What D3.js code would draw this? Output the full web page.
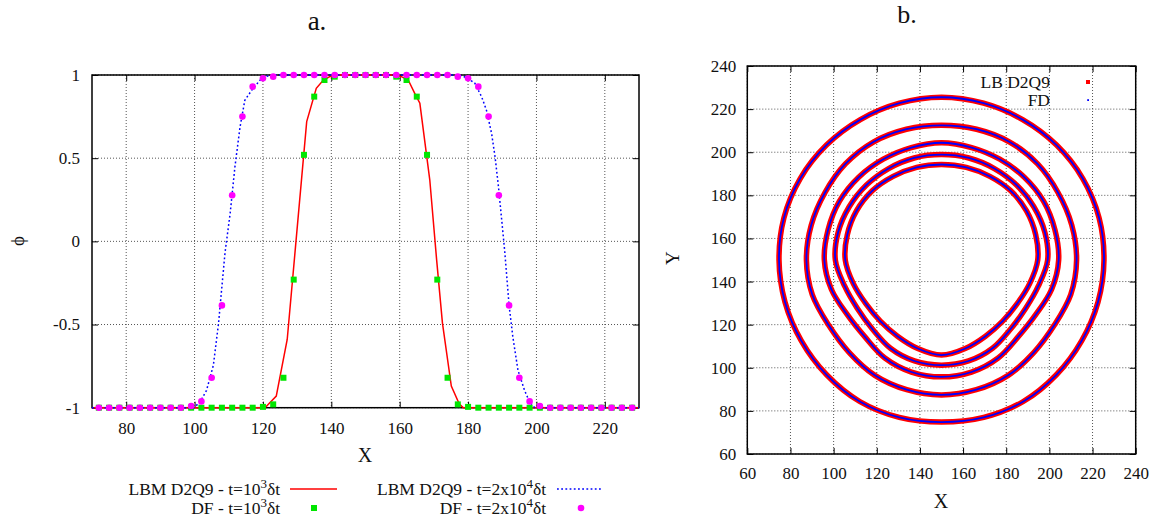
<!DOCTYPE html>
<html>
<head>
<meta charset="utf-8">
<script src="https://cdn.jsdelivr.net/npm/d3@7"></script>
<style>
  body { margin: 0; background: #fff; }
  text { font-family: "Liberation Serif", "Times New Roman", serif; }
</style>
</head>
<body>
<svg id="chart" width="1159" height="523"></svg>
<script>
/**************** data, panel a : phi along X ****************/
var dfX = [72, 75, 78, 81, 84, 87, 90, 93, 96, 99, 102, 105, 108, 111, 114, 117, 120, 123, 126,
           129, 132, 135, 138, 141, 144, 147, 150, 153, 156, 159, 162, 165, 168, 171, 174, 177,
           180, 183, 186, 189, 192, 195, 198, 201, 204, 207, 210, 213, 216, 219, 222, 225, 228];
// DF - t=10^3 dt
var dfEarly = [-1, -1, -1, -1, -1, -1, -1, -1, -1, -1, -1, -1, -1, -1, -1, -1, -0.995, -0.98, -0.82,
               -0.23, 0.52, 0.87, 0.97, 0.99, 1, 1, 1, 1, 1, 0.99, 0.97, 0.87, 0.52, -0.23, -0.82, -0.98,
               -0.995, -1, -1, -1, -1, -1, -1, -1, -1, -1, -1, -1, -1, -1, -1, -1, -1];
// DF - t=2x10^4 dt
var dfLate = [-1, -1, -1, -1, -1, -1, -1, -1, -1, -0.99, -0.962, -0.82, -0.385, 0.277, 0.75, 0.93, 0.98, 0.99, 1,
              1, 1, 1, 1, 1, 1, 1, 1, 1, 1, 1, 1, 1, 1, 1, 1, 0.99,
              0.98, 0.93, 0.75, 0.277, -0.385, -0.82, -0.962, -0.99, -1, -1, -1, -1, -1, -1, -1, -1, -1];
// LBM D2Q9 - t=10^3 dt
var lbmEarly = [[70, -1], [120.6, -1], [123.9, -0.93], [127.1, -0.59], [132.8, 0.72], [135.6, 0.92],
                [137.5, 0.965], [139.5, 0.99], [141.5, 1], [158.5, 1], [160.5, 0.99], [162.5, 0.97],
                [164.4, 0.89], [165.9, 0.83], [168.8, 0.37], [170.8, -0.11], [172.5, -0.49],
                [175.1, -0.87], [177.4, -0.976], [178.6, -1], [230, -1]];
// LBM D2Q9 - t=2x10^4 dt
var lbmLate = [[70, -1], [99.8, -1], [101.6, -0.966], [103.5, -0.896], [105.5, -0.745], [107, -0.495],
               [108.9, -0.07], [110.4, 0.166], [111.8, 0.447], [113.3, 0.687], [114.7, 0.848],
               [116.7, 0.908], [119.1, 0.968], [121.1, 0.992], [123, 1], [177, 1], [178.6, 0.992],
               [180.1, 0.978], [182, 0.95], [184, 0.867], [185.4, 0.787], [186.9, 0.647], [187.9, 0.507],
               [188.9, 0.327], [190.7, -0.054], [192, -0.385], [193.1, -0.575], [194.6, -0.775],
               [196.5, -0.895], [198, -0.966], [199.5, -1], [230, -1]];
var xTicksA = [80, 100, 120, 140, 160, 180, 200, 220];
var yTicksA = [-1, -0.5, 0, 0.5, 1];

/**************** data, panel b : interface contours ****************/
// contours around (150,150): radius read every 15 degrees, clockwise from the top
var contourCenter = [150, 150];
var contourAngles = [0, 15, 30, 45, 60, 75, 90, 105, 120, 135, 150, 165,
                     180, 195, 210, 225, 240, 255, 270, 285, 300, 315, 330, 345];
var radii1 = [75.5, 75.3, 75.2, 75.4, 75.6, 75.6, 75.3, 75.1, 75, 75.3, 75.8, 75.6,
              75.2, 75.6, 75.8, 75.3, 75, 75.1, 75.3, 75.6, 75.6, 75.4, 75.2, 75.3];
var radii2 = [62.5, 62.8, 63.2, 63, 62.4, 62.5, 62.6, 62, 60.4, 60.6, 61.8, 62.3,
              62.6, 62.3, 61.8, 60.6, 60.4, 62, 62.6, 62.5, 62.4, 63, 63.2, 62.8];
var radii3 = [54.4, 54, 54, 54.3, 54.6, 54.4, 54.3, 52.8, 50.5, 50.3, 52.5, 53.8,
              54.2, 53.8, 52.5, 50.3, 50.5, 52.8, 54.3, 54.4, 54.6, 54.3, 54, 54];
var radii4 = [48.9, 49, 49, 49.2, 49.4, 49.6, 49.2, 46.5, 45, 45.3, 47.3, 48.5,
              48.8, 48.5, 47.3, 45.3, 45, 46.5, 49.2, 49.6, 49.4, 49.2, 49, 49];
var radii5 = [44.3, 44.5, 44.8, 45.4, 45.5, 45.2, 44.6, 42.3, 40.5, 40.1, 40.8, 42.5,
              44.1, 42.5, 40.8, 40.1, 40.5, 42.3, 44.6, 45.2, 45.5, 45.4, 44.8, 44.5];
var radiiB = [radii1, radii2, radii3, radii4, radii5];
var ticksB = [60, 80, 100, 120, 140, 160, 180, 200, 220, 240];

/**************** drawing ****************/
var serif = '"Liberation Serif", "Times New Roman", serif';
var svg = d3.select("#chart");

function panel(box, xDom, yDom, xTicks, yTicks, padX, padY) {
    var x = d3.scaleLinear().domain(xDom).range([box.left, box.right]);
    var y = d3.scaleLinear().domain(yDom).range([box.bottom, box.top]);
    var g = svg.append("g");
    var fmt = function(d) { return String(d); };

    // dotted grid
    g.selectAll("line.gx").data(xTicks).enter().append("line").attr("class", "gx")
        .attr("x1", function(d) { return x(d); }).attr("x2", function(d) { return x(d); })
        .attr("y1", box.top).attr("y2", box.bottom);
    g.selectAll("line.gy").data(yTicks).enter().append("line").attr("class", "gy")
        .attr("y1", function(d) { return y(d); }).attr("y2", function(d) { return y(d); })
        .attr("x1", box.left).attr("x2", box.right);
    g.selectAll("line.gx, line.gy").attr("stroke", "#555").attr("stroke-width", 1)
        .attr("stroke-dasharray", "1,2");

    // axes, ticks pointing inwards and mirrored
    var axes = [
        g.append("g").attr("transform", "translate(0," + box.bottom + ")")
            .call(d3.axisBottom(x).tickValues(xTicks).tickSizeInner(-6).tickSizeOuter(0).tickPadding(padX).tickFormat(fmt)),
        g.append("g").attr("transform", "translate(" + box.left + ",0)")
            .call(d3.axisLeft(y).tickValues(yTicks).tickSizeInner(-6).tickSizeOuter(0).tickPadding(padY).tickFormat(fmt)),
        g.append("g").attr("transform", "translate(0," + box.top + ")")
            .call(d3.axisTop(x).tickValues(xTicks).tickSizeInner(-6).tickSizeOuter(0).tickFormat("")),
        g.append("g").attr("transform", "translate(" + box.right + ",0)")
            .call(d3.axisRight(y).tickValues(yTicks).tickSizeInner(-6).tickSizeOuter(0).tickFormat(""))
    ];
    axes.forEach(function(a) {
        a.attr("font-family", serif).attr("font-size", 17);
        a.select(".domain").remove();
        a.selectAll(".tick line").attr("stroke", "#000").attr("stroke-width", 1);
        a.selectAll(".tick text").attr("fill", "#111");
    });

    // border
    g.append("rect").attr("x", box.left).attr("y", box.top)
        .attr("width", box.right - box.left).attr("height", box.bottom - box.top)
        .attr("fill", "none").attr("stroke", "#000").attr("stroke-width", 1.5);

    return { x: x, y: y, g: g };
}

function label(txt, x, y, size, rot, anchor) {
    var t = svg.append("text").attr("x", x).attr("y", y)
        .attr("font-size", size).attr("text-anchor", anchor || "middle").attr("fill", "#111")
        .text(txt);
    if (rot) t.attr("transform", "rotate(" + rot + "," + x + "," + y + ")");
    return t;
}

// legend text like "LBM D2Q9 - t=10^3 dt"
function supText(before, sup, after, x, y) {
    var t = svg.append("text").attr("x", x).attr("y", y).attr("font-size", 17.5)
        .attr("text-anchor", "end").attr("fill", "#111");
    t.append("tspan").text(before);
    t.append("tspan").attr("dy", -7).attr("font-size", 13).text(sup);
    t.append("tspan").attr("dy", 7).text(after);
}

/* ---------- panel a ---------- */
var pa = panel({ left: 92, right: 639, top: 75, bottom: 407.7 }, [70, 230], [-1, 1], xTicksA, yTicksA, 14, 12);

var lineA = d3.line().x(function(d) { return pa.x(d[0]); }).y(function(d) { return pa.y(d[1]); });

pa.g.append("path").datum(lbmEarly).attr("d", lineA)
    .attr("fill", "none").attr("stroke", "#ff0000").attr("stroke-width", 1.5);

pa.g.selectAll("rect.dfe").data(dfX).enter().append("rect").attr("class", "dfe")
    .attr("x", function(d) { return pa.x(d) - 3; })
    .attr("y", function(d, i) { return pa.y(dfEarly[i]) - 3; })
    .attr("width", 6).attr("height", 6).attr("fill", "#00e600");

pa.g.append("path").datum(lbmLate).attr("d", lineA)
    .attr("fill", "none").attr("stroke", "#0000ff").attr("stroke-width", 1.5)
    .attr("stroke-dasharray", "1.8,2.4");

pa.g.selectAll("circle.dfl").data(dfX).enter().append("circle").attr("class", "dfl")
    .attr("cx", function(d) { return pa.x(d); })
    .attr("cy", function(d, i) { return pa.y(dfLate[i]); })
    .attr("r", 3.3).attr("fill", "#ff00ff");

label("a.", 317, 30, 27);
label("X", 365, 462, 20);
label("\u03d5", 17, 241, 19, -90).attr("dy", "0.35em");

// legend of panel a
supText("LBM D2Q9 - t=10", "3", "\u03b4t", 280, 495);
supText("DF - t=10", "3", "\u03b4t", 280, 514);
supText("LBM D2Q9 - t=2x10", "4", "\u03b4t", 546, 495);
supText("DF - t=2x10", "4", "\u03b4t", 546, 514);
svg.append("line").attr("x1", 290).attr("x2", 337).attr("y1", 489).attr("y2", 489)
    .attr("stroke", "#ff0000").attr("stroke-width", 1.5);
svg.append("rect").attr("x", 314 - 3).attr("y", 508 - 3).attr("width", 6).attr("height", 6)
    .attr("fill", "#00e600");
svg.append("line").attr("x1", 557).attr("x2", 603).attr("y1", 489).attr("y2", 489)
    .attr("stroke", "#0000ff").attr("stroke-width", 1.5).attr("stroke-dasharray", "1.8,2.4");
svg.append("circle").attr("cx", 581).attr("cy", 508).attr("r", 3.3).attr("fill", "#ff00ff");

/* ---------- panel b ---------- */
var pb = panel({ left: 747.3, right: 1135.7, top: 66, bottom: 454 }, [60, 240], [60, 240], ticksB, ticksB, 12.5, 11);

// polar readings -> data coordinates -> panel scales
var lineB = d3.line()
    .x(function(d, i) { return pb.x(contourCenter[0] + d * Math.sin(contourAngles[i] * Math.PI / 180)); })
    .y(function(d, i) { return pb.y(contourCenter[1] + d * Math.cos(contourAngles[i] * Math.PI / 180)); })
    .curve(d3.curveCatmullRomClosed.alpha(0.5));

// LB D2Q9 (red, wide) then FD (blue, thin) on top
pb.g.selectAll("path.lb").data(radiiB).enter().append("path").attr("class", "lb")
    .attr("d", lineB).attr("fill", "none").attr("stroke", "#ff0000").attr("stroke-width", 5.5);
pb.g.selectAll("path.fd").data(radiiB).enter().append("path").attr("class", "fd")
    .attr("d", lineB).attr("fill", "none").attr("stroke", "#0000ff").attr("stroke-width", 1.8);

label("b.", 907, 23, 26);
label("X", 941, 508, 20);
label("Y", 672, 258, 19, -90).attr("dy", "0.35em");

svg.append("text").attr("x", 1050).attr("y", 88).attr("font-size", 17.5).attr("text-anchor", "end")
    .attr("fill", "#111").text("LB D2Q9");
svg.append("text").attr("x", 1050).attr("y", 106).attr("font-size", 17.5).attr("text-anchor", "end")
    .attr("fill", "#111").text("FD");
svg.append("rect").attr("x", 1086).attr("y", 80).attr("width", 4).attr("height", 4).attr("fill", "#ff0000");
svg.append("rect").attr("x", 1087.2).attr("y", 99.2).attr("width", 1.8).attr("height", 1.8).attr("fill", "#0000ff");
</script>
</body>
</html>
